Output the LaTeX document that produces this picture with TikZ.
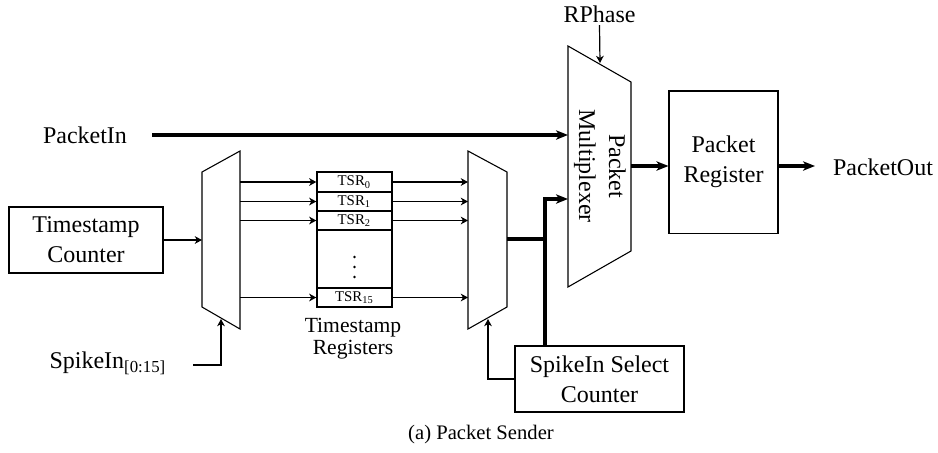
\documentclass[tikz,border=0pt]{standalone}
\usepackage{fontspec}
\usetikzlibrary{arrows.meta}
\setmainfont{Liberation Serif}
\begin{document}
\begin{tikzpicture}[x=0.4167pt,y=-0.4167pt,
  every node/.style={inner sep=0pt,font=\fontsize{10}{12.5}\selectfont},
  blk/.style={draw,line width=0.45pt,align=center},
  reg/.style={draw,line width=0.55pt,minimum width=31.25pt,minimum height=8pt,
              font=\fontsize{6.2}{6.5}\selectfont},
  mux/.style={draw,line width=0.45pt},
  sig/.style={-{Stealth[length=3pt,width=3.2pt,inset=0.9pt]},line width=0.5pt},
  bus/.style={-{Stealth[length=5pt,width=3.9pt,inset=1.4pt]},line width=1.35pt},
  wire/.style={line width=1.35pt}]
\useasboundingbox (0,0) rectangle (938,452);

% multiplexers
\draw[mux] (202,172) -- (240,151) -- (240,329) -- (202,307) -- cycle;
\draw[mux] (468,151) -- (507,172) -- (507,307) -- (468,329) -- cycle;
\draw[mux] (568,46) -- (631,82) -- (631,251) -- (568,287) -- cycle;
\node[rotate=-90,align=center] (pmtext) at (600,166) {Packet\\Multiplexer};

% port coordinates on the multiplexers
\coordinate (m1in) at (202,240);
\coordinate (m1r)  at (240,240);
\coordinate (m1s)  at (221,319);
\coordinate (m2l)  at (468,240);
\coordinate (m2o)  at (507,239);
\coordinate (m2s)  at (488,319);
\coordinate (pm1)  at (568,135);
\coordinate (pm2)  at (568,199);
\coordinate (pmo)  at (631,166);
\coordinate (pms)  at (600,63);
\coordinate (j)    at (545,239);

% blocks
\node[blk,minimum width=64.2pt,minimum height=27.5pt] (tc) at (86,240) {Timestamp\\Counter};
\node[blk,minimum width=45.4pt,minimum height=59.2pt] (pr) at (723.5,162) {Packet\\Register};
\node[blk,minimum width=70.4pt,minimum height=27.5pt] (sc) at (599.5,379) {SpikeIn Select\\Counter};

% timestamp registers
\node[reg,minimum height=8.33pt] (r0) at (354.5,182) {TSR\textsubscript{0}};
\node[reg,minimum height=7.92pt] (r1) at (354.5,201.5) {TSR\textsubscript{1}};
\node[reg,minimum height=7.92pt] (r2) at (354.5,220.5) {TSR\textsubscript{2}};
\node[reg,minimum height=24.2pt] (rd) at (354.5,259) {};
\node[reg,minimum height=7.92pt] (r15) at (354.5,297.5) {TSR\textsubscript{15}};
\foreach \yy in {257,267,277} \fill (354.5,\yy) circle (0.55pt);

% labels
\node (pin) at (85,135) {PacketIn};
\node (spk) at (108,363) {SpikeIn\textsubscript{[0:15]}};
\node (rph) at (599.5,14) {RPhase};
\node (pout) at (883,167) {PacketOut};
\node[align=center,font=\fontsize{9}{9.3}\selectfont] (treg) at (353,339) {Timestamp\\Registers};
\node[font=\fontsize{8.6}{10}\selectfont] (cap) at (481,435) {(a) Packet Sender};
\coordinate (pinstart) at (152,135);
\coordinate (spkstart) at (193,365);
\coordinate (poutend) at (815,166);

% connectors
\draw[sig] (tc.east |- m1in) -- (m1in);
\draw[sig] (spkstart) -| (m1s);
\foreach \r in {r0,r1,r2,r15} {
  \draw[sig] (\r.west -| m1r) -- (\r.west);
  \draw[sig] (\r.east) -- (\r.east -| m2l);
}
\draw[wire] (m2o) -- (j);
\draw[bus] (sc.north -| j) -- (j |- pm2) -- (pm2);
\draw[sig] (sc.west) -| (m2s);
\draw[bus] (pinstart) -- (pm1);
\draw[sig] (rph.south |- 0,25) -- (pms);
\draw[bus] (pmo) -- (pmo -| pr.west);
\draw[bus] (pmo -| pr.east) -- (poutend);
\end{tikzpicture}
\end{document}
